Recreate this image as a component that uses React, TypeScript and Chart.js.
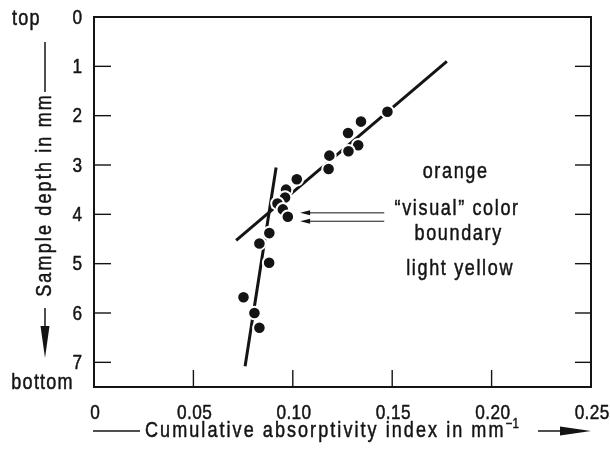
import React, { useEffect, useRef } from "react";
import { Chart, registerables } from "chart.js";

Chart.register(...registerables);

// ---- data ----
const absorptivity = [
  0.1476, 0.1343, 0.1278, 0.1329, 0.128, 0.1184, 0.118, 0.102, 0.0966, 0.0961,
  0.0923, 0.095, 0.0975, 0.0882, 0.0832, 0.0881, 0.0752, 0.0807, 0.0832,
];
const depth = [
  1.92, 2.12, 2.35, 2.6, 2.72, 2.81, 3.08, 3.29, 3.5, 3.66, 3.78, 3.9, 4.05,
  4.38, 4.59, 4.98, 5.68, 6.0, 6.3,
];
const upperFitX = [0.0715, 0.1775];
const upperFitY = [4.53, 0.9];
const lowerFitX = [0.0916, 0.076];
const lowerFitY = [3.05, 7.08];
const boundaryArrowY = [3.97, 4.14];
const boundaryArrowX = [0.1037, 0.146];

const xTickValues = [0, 0.05, 0.1, 0.15, 0.2, 0.25];
const xTickLabels = ["0", "0.05", "0.10", "0.15", "0.20", "0.25"];
const yTickValues = [0, 1, 2, 3, 4, 5, 6, 7];
const yTickLabels = ["0", "1", "2", "3", "4", "5", "6", "7"];

const annotations = ["orange", "\u201Cvisual\u201D color", "boundary", "light yellow"];
const annotationY = [3.14, 3.9, 4.39, 5.1];
const xTitle = "Cumulative absorptivity index in mm";
const yTitle = "Sample depth in mm";

const INK = "#141414";
const FAMILY = "'Liberation Sans', Arial, sans-serif";
const NARROW = 0.82;

function txt(
  ctx: CanvasRenderingContext2D,
  s: string,
  x: number,
  y: number,
  align: "left" | "center" | "right",
  size: number,
  ls: number
) {
  ctx.save();
  ctx.font = `${size}px ${FAMILY}`;
  (ctx as any).letterSpacing = `${ls}px`;
  ctx.textAlign = "left";
  ctx.textBaseline = "middle";
  const w = (ctx.measureText(s).width - ls) * NARROW;
  const left = align === "center" ? x - w / 2 : align === "right" ? x - w : x;
  ctx.translate(left, y);
  ctx.scale(NARROW, 1);
  ctx.lineWidth = 0.5;
  ctx.lineJoin = "round";
  ctx.strokeStyle = INK;
  ctx.fillText(s, 0, 0);
  ctx.strokeText(s, 0, 0);
  ctx.restore();
  return w;
}

function seg(ctx: CanvasRenderingContext2D, x1: number, y1: number, x2: number, y2: number) {
  ctx.beginPath();
  ctx.moveTo(x1, y1);
  ctx.lineTo(x2, y2);
  ctx.stroke();
}

const decor = {
  id: "decor",
  afterDraw(chart: any) {
    const { ctx, chartArea: a, scales } = chart;
    const sx = scales.x;
    const sy = scales.y;
    ctx.save();
    ctx.strokeStyle = INK;
    ctx.fillStyle = INK;
    // frame
    ctx.lineWidth = 2;
    ctx.strokeRect(a.left, a.top, a.right - a.left, a.bottom - a.top);
    // inward ticks
    ctx.lineWidth = 1.4;
    yTickValues.forEach((v) => {
      if (v === 0) return;
      const py = sy.getPixelForValue(v);
      seg(ctx, a.left, py, a.left + 17, py);
      seg(ctx, a.right - 16, py, a.right, py);
    });
    xTickValues.forEach((v) => {
      if (v === 0 || v === 0.25) return;
      const px = sx.getPixelForValue(v);
      seg(ctx, px, a.bottom, px, a.bottom - 17);
    });

    // tick labels
    yTickValues.forEach((v, i) => {
      txt(ctx, yTickLabels[i], a.left - 12, sy.getPixelForValue(v) + 1, "right", 21, 0);
    });
    xTickValues.forEach((v, i) => {
      txt(ctx, xTickLabels[i], sx.getPixelForValue(v) + 1, a.bottom + 26, "center", 21, 0.5);
    });

    // boundary arrows
    ctx.lineWidth = 1;
    boundaryArrowY.forEach((v) => {
      const py = sy.getPixelForValue(v);
      const x1 = sx.getPixelForValue(boundaryArrowX[0]);
      const x2 = sx.getPixelForValue(boundaryArrowX[1]);
      seg(ctx, x1 + 6, py, x2, py);
      ctx.beginPath();
      ctx.moveTo(x1, py);
      ctx.lineTo(x1 + 10, py - 2.5);
      ctx.lineTo(x1 + 10, py + 2.5);
      ctx.closePath();
      ctx.fill();
    });

    // annotations
    const ax = sx.getPixelForValue(0.1815);
    annotations.forEach((s, i) => {
      txt(ctx, s, ax + i * 1.5, sy.getPixelForValue(annotationY[i]), "center", 22, 2);
    });

    // corner words
    txt(ctx, "top", 12, 19, "left", 22, 1.5);
    txt(ctx, "bottom", 42, 383, "center", 22, 1.5);

    // y title
    ctx.save();
    ctx.translate(45, 196);
    ctx.rotate(-Math.PI / 2);
    txt(ctx, yTitle, 0, 0, "center", 22, 2.6);
    ctx.restore();
    ctx.lineWidth = 1.5;
    seg(ctx, 45, 42, 45, 92);
    seg(ctx, 45, 308, 45, 335);
    ctx.beginPath();
    ctx.moveTo(45, 358);
    ctx.lineTo(40.5, 326);
    ctx.lineTo(49.5, 326);
    ctx.closePath();
    ctx.fill();

    // x title
    const ty = 431;
    seg(ctx, 93, ty, 140, ty);
    const w = txt(ctx, xTitle, 145, ty, "left", 22, 2.5);
    txt(ctx, "\u22121", 145 + w + 2, ty - 7, "left", 14, 0.5);
    seg(ctx, 538, ty, 566, ty);
    ctx.beginPath();
    ctx.moveTo(591, ty);
    ctx.lineTo(560, ty - 4.5);
    ctx.lineTo(560, ty + 4.5);
    ctx.closePath();
    ctx.fill();
    ctx.restore();
  },
};

export default function App() {
  const ref = useRef<HTMLCanvasElement>(null);
  useEffect(() => {
    const points = absorptivity.map((x, i) => ({ x, y: depth[i] }));
    const upper = upperFitX.map((x, i) => ({ x, y: upperFitY[i] }));
    const lower = lowerFitX.map((x, i) => ({ x, y: lowerFitY[i] }));
    const chart = new Chart(ref.current as HTMLCanvasElement, {
      type: "scatter",
      data: {
        datasets: [
          {
            data: points,
            pointRadius: 6.3,
            pointBackgroundColor: INK,
            pointBorderColor: "#ffffff",
            pointBorderWidth: 2,
            order: 0,
          } as any,
          {
            type: "line",
            data: upper,
            borderColor: INK,
            borderWidth: 3,
            pointRadius: 0,
            showLine: true,
            order: 1,
          } as any,
          {
            type: "line",
            data: lower,
            borderColor: INK,
            borderWidth: 3,
            pointRadius: 0,
            showLine: true,
            order: 1,
          } as any,
        ],
      },
      options: {
        animation: false,
        responsive: false,
        devicePixelRatio: 1,
        layout: { padding: { left: 0, top: 17, right: 19, bottom: 0 } },
        plugins: { legend: { display: false }, tooltip: { enabled: false } },
        scales: {
          x: {
            type: "linear",
            min: 0,
            max: 0.25,
            grid: { display: false, drawTicks: false },
            border: { display: false },
            ticks: { display: false },
            afterBuildTicks: (s: any) => {
              s.ticks = xTickValues.map((v) => ({ value: v }));
            },
            afterFit: (s: any) => {
              s.height = 65;
            },
          },
          y: {
            type: "linear",
            reverse: true,
            min: 0,
            max: 7.5,
            grid: { display: false, drawTicks: false },
            border: { display: false },
            ticks: { display: false },
            afterBuildTicks: (s: any) => {
              s.ticks = yTickValues.map((v) => ({ value: v }));
            },
            afterFit: (s: any) => {
              s.width = 94;
            },
          },
        },
      } as any,
      plugins: [decor],
    });
    return () => chart.destroy();
  }, []);
  return (
    <div style={{ position: "fixed", left: 0, top: 0, width: 610, height: 452, background: "#ffffff" }}>
      <canvas ref={ref} width={610} height={452} style={{ display: "block", width: 610, height: 452 }} />
    </div>
  );
}
